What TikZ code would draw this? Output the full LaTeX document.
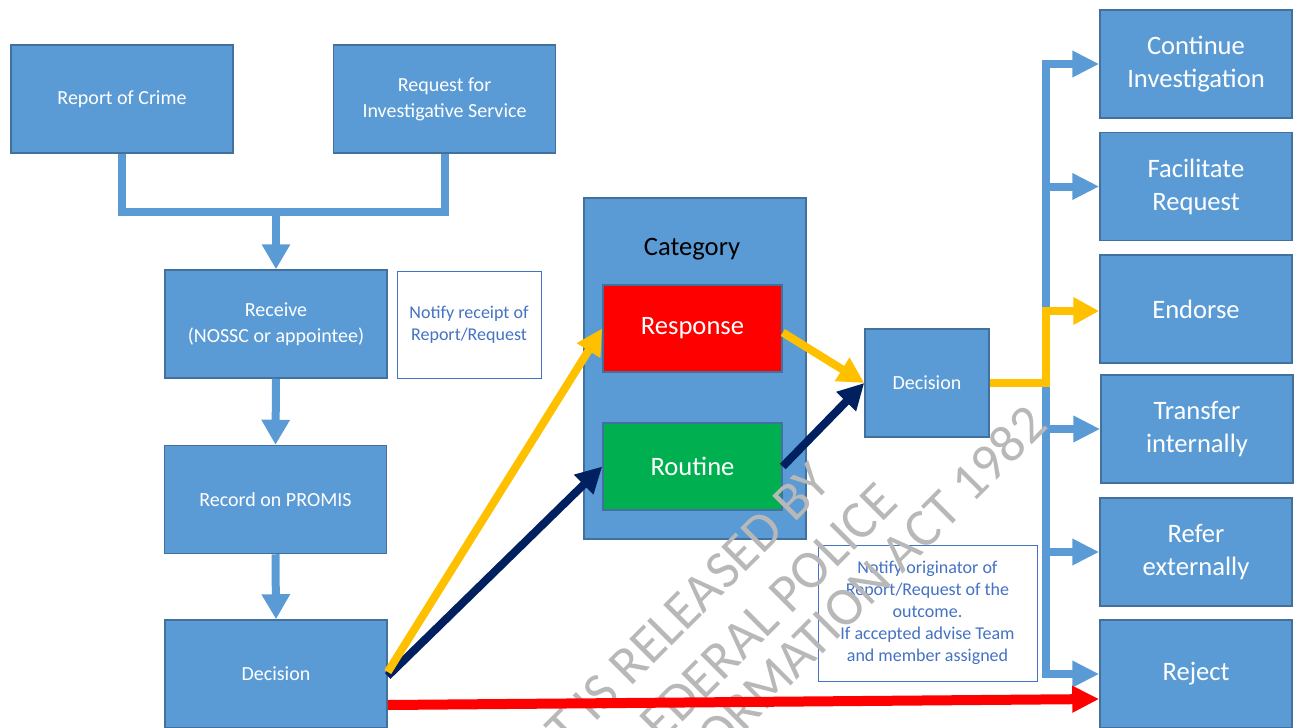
\documentclass[tikz,border=0pt]{standalone}
\usepackage{fontspec}
\setmainfont{Carlito}
\usetikzlibrary{arrows.meta, positioning, calc}
\definecolor{flowblue}{HTML}{5B9BD5}
\definecolor{flowedge}{HTML}{41719C}
\definecolor{noteblue}{HTML}{4472C4}
\definecolor{respred}{HTML}{FF0000}
\definecolor{routgreen}{HTML}{00B050}
\definecolor{pathgold}{HTML}{FFC000}
\definecolor{pathnavy}{HTML}{002060}
\definecolor{stampgrey}{HTML}{B8B8B8}

\tikzset{
    stepbox/.style={draw=flowedge, line width=0.75pt, fill=flowblue, text=white, inner sep=0pt, align=center,
        minimum width=111pt, minimum height=54pt, font=\fontsize{10}{13}\selectfont},
    outcome/.style={stepbox, minimum width=96pt, font=\fontsize{13.3}{16.5}\selectfont},
    catbox/.style={stepbox, minimum width=89.5pt, minimum height=43.5pt, font=\fontsize{13.3}{16.5}\selectfont},
    notebox/.style={draw=noteblue, line width=0.5pt, fill=white, text=noteblue, inner sep=0pt, align=center,
        font=\fontsize{9}{11}\selectfont},
    flowline/.style={flowblue, line width=4pt},
    flow/.style={flowline, -{Triangle[length=12.5pt, width=13.5pt]}},
    goldflow/.style={pathgold, line width=4pt, -{Triangle[length=13pt, width=13pt]}},
    navyflow/.style={pathnavy, line width=4pt, -{Triangle[length=13pt, width=13pt]}},
    redflow/.style={respred, line width=5pt, -{Triangle[length=13.5pt, width=12.5pt]}},
    stamp/.style={text=stampgrey, inner sep=0pt, rotate=45, anchor=base east, font=\fontsize{27}{32}\selectfont}
}

\begin{document}
\begin{tikzpicture}[x=0.5pt, y=-0.5pt]
    \useasboundingbox (0,0) rectangle (1297,728);

    \node[stepbox] (report) at (122,99) {Report of Crime};
    \node[stepbox] (request) at (444.5,99) {Request for\\Investigative Service};
    \node[stepbox] (receive) at (276,324) {Receive\\(NOSSC or appointee)};
    \node[notebox, minimum width=72pt, minimum height=53.5pt] (notifyrec) at (469,324.5) {Notify receipt of\\Report/Request};
    \node[stepbox] (record) at (275.5,499.5) {Record on PROMIS};
    \node[stepbox] (decB) at (276,674) {Decision};

    \node[stepbox, minimum width=111pt, minimum height=170.5pt] (category) at (695,368.5) {};
    \node[text=black, font=\fontsize{13.3}{16}\selectfont] (catlabel) at (692,249) {Category};
    \node[catbox, fill=respred] (response) at (692.5,328.5) {Response};
    \node[catbox, fill=routgreen] (routine) at (692.5,466.5) {Routine};

    \node[stepbox, minimum width=62pt] (decM) at (927,383) {Decision};
    \node[notebox, minimum width=109.5pt, minimum height=68pt] (notifyout) at (927.5,613)
        {Notify originator of\\Report/Request of the\\outcome.\\If accepted advise Team\\and member assigned};

    \node[outcome] (cont) at (1196,64) {Continue\\Investigation};
    \node[outcome] (facil) at (1196,186.5) {Facilitate\\Request};
    \node[outcome] (endorse) at (1196,309) {Endorse};
    \node[outcome] (transfer) at (1197,429) {Transfer\\internally};
    \node[outcome] (refer) at (1196,552) {Refer\\externally};
    \node[outcome] (reject) at (1196,674) {Reject};

    \coordinate (join) at (276,212);
    \coordinate (bustop) at (1046,64);

    \draw[flowline] (report.south) |- (request.south |- join) -- (request.south);
    \draw[flow] (receive.north |- join) -- (receive.north);
    \draw[flow] (receive.south) -- (record.north);
    \draw[flow] (record.south) -- (decB.north);

    \draw[flowline, {Triangle[length=13.5pt, width=12.5pt]}-{Triangle[length=13.5pt, width=12.5pt]}]
        (cont.west) -| (bustop |- reject.west) -- (reject.west);
    \foreach \n in {facil, transfer, refer}
        \draw[flowline, -{Triangle[length=13.5pt, width=12.5pt]}] (bustop |- \n.west) -- (\n.west);

    \draw[navyflow] ([yshift=-1pt]decB.east) -- (routine.west);
    \draw[goldflow] ([yshift=1pt]decB.east) -- (response.west);
    \draw[navyflow] (routine.east) -- (decM.west);
    \draw[goldflow] ([yshift=-2pt]response.east) -- (decM.west);
    \draw[goldflow] (decM.east) -- (decM.east -| bustop) |- ([yshift=-1pt]endorse.west);

    \begin{scope}
        \clip (0,0) rectangle (1297,728);
        \node[stamp] (stampA) at (833,485) {T IS RELEASED BY};
        \node[stamp] (stampB) at (900,505) {EDERAL POLICE};
        \node[stamp] (stampC) at (1050,427) {FORMATION ACT 1982};
    \end{scope}

    \draw[redflow] ([yshift=-15.5pt]decB.east) -- ([yshift=-12.5pt]reject.west);
\end{tikzpicture}
\end{document}
